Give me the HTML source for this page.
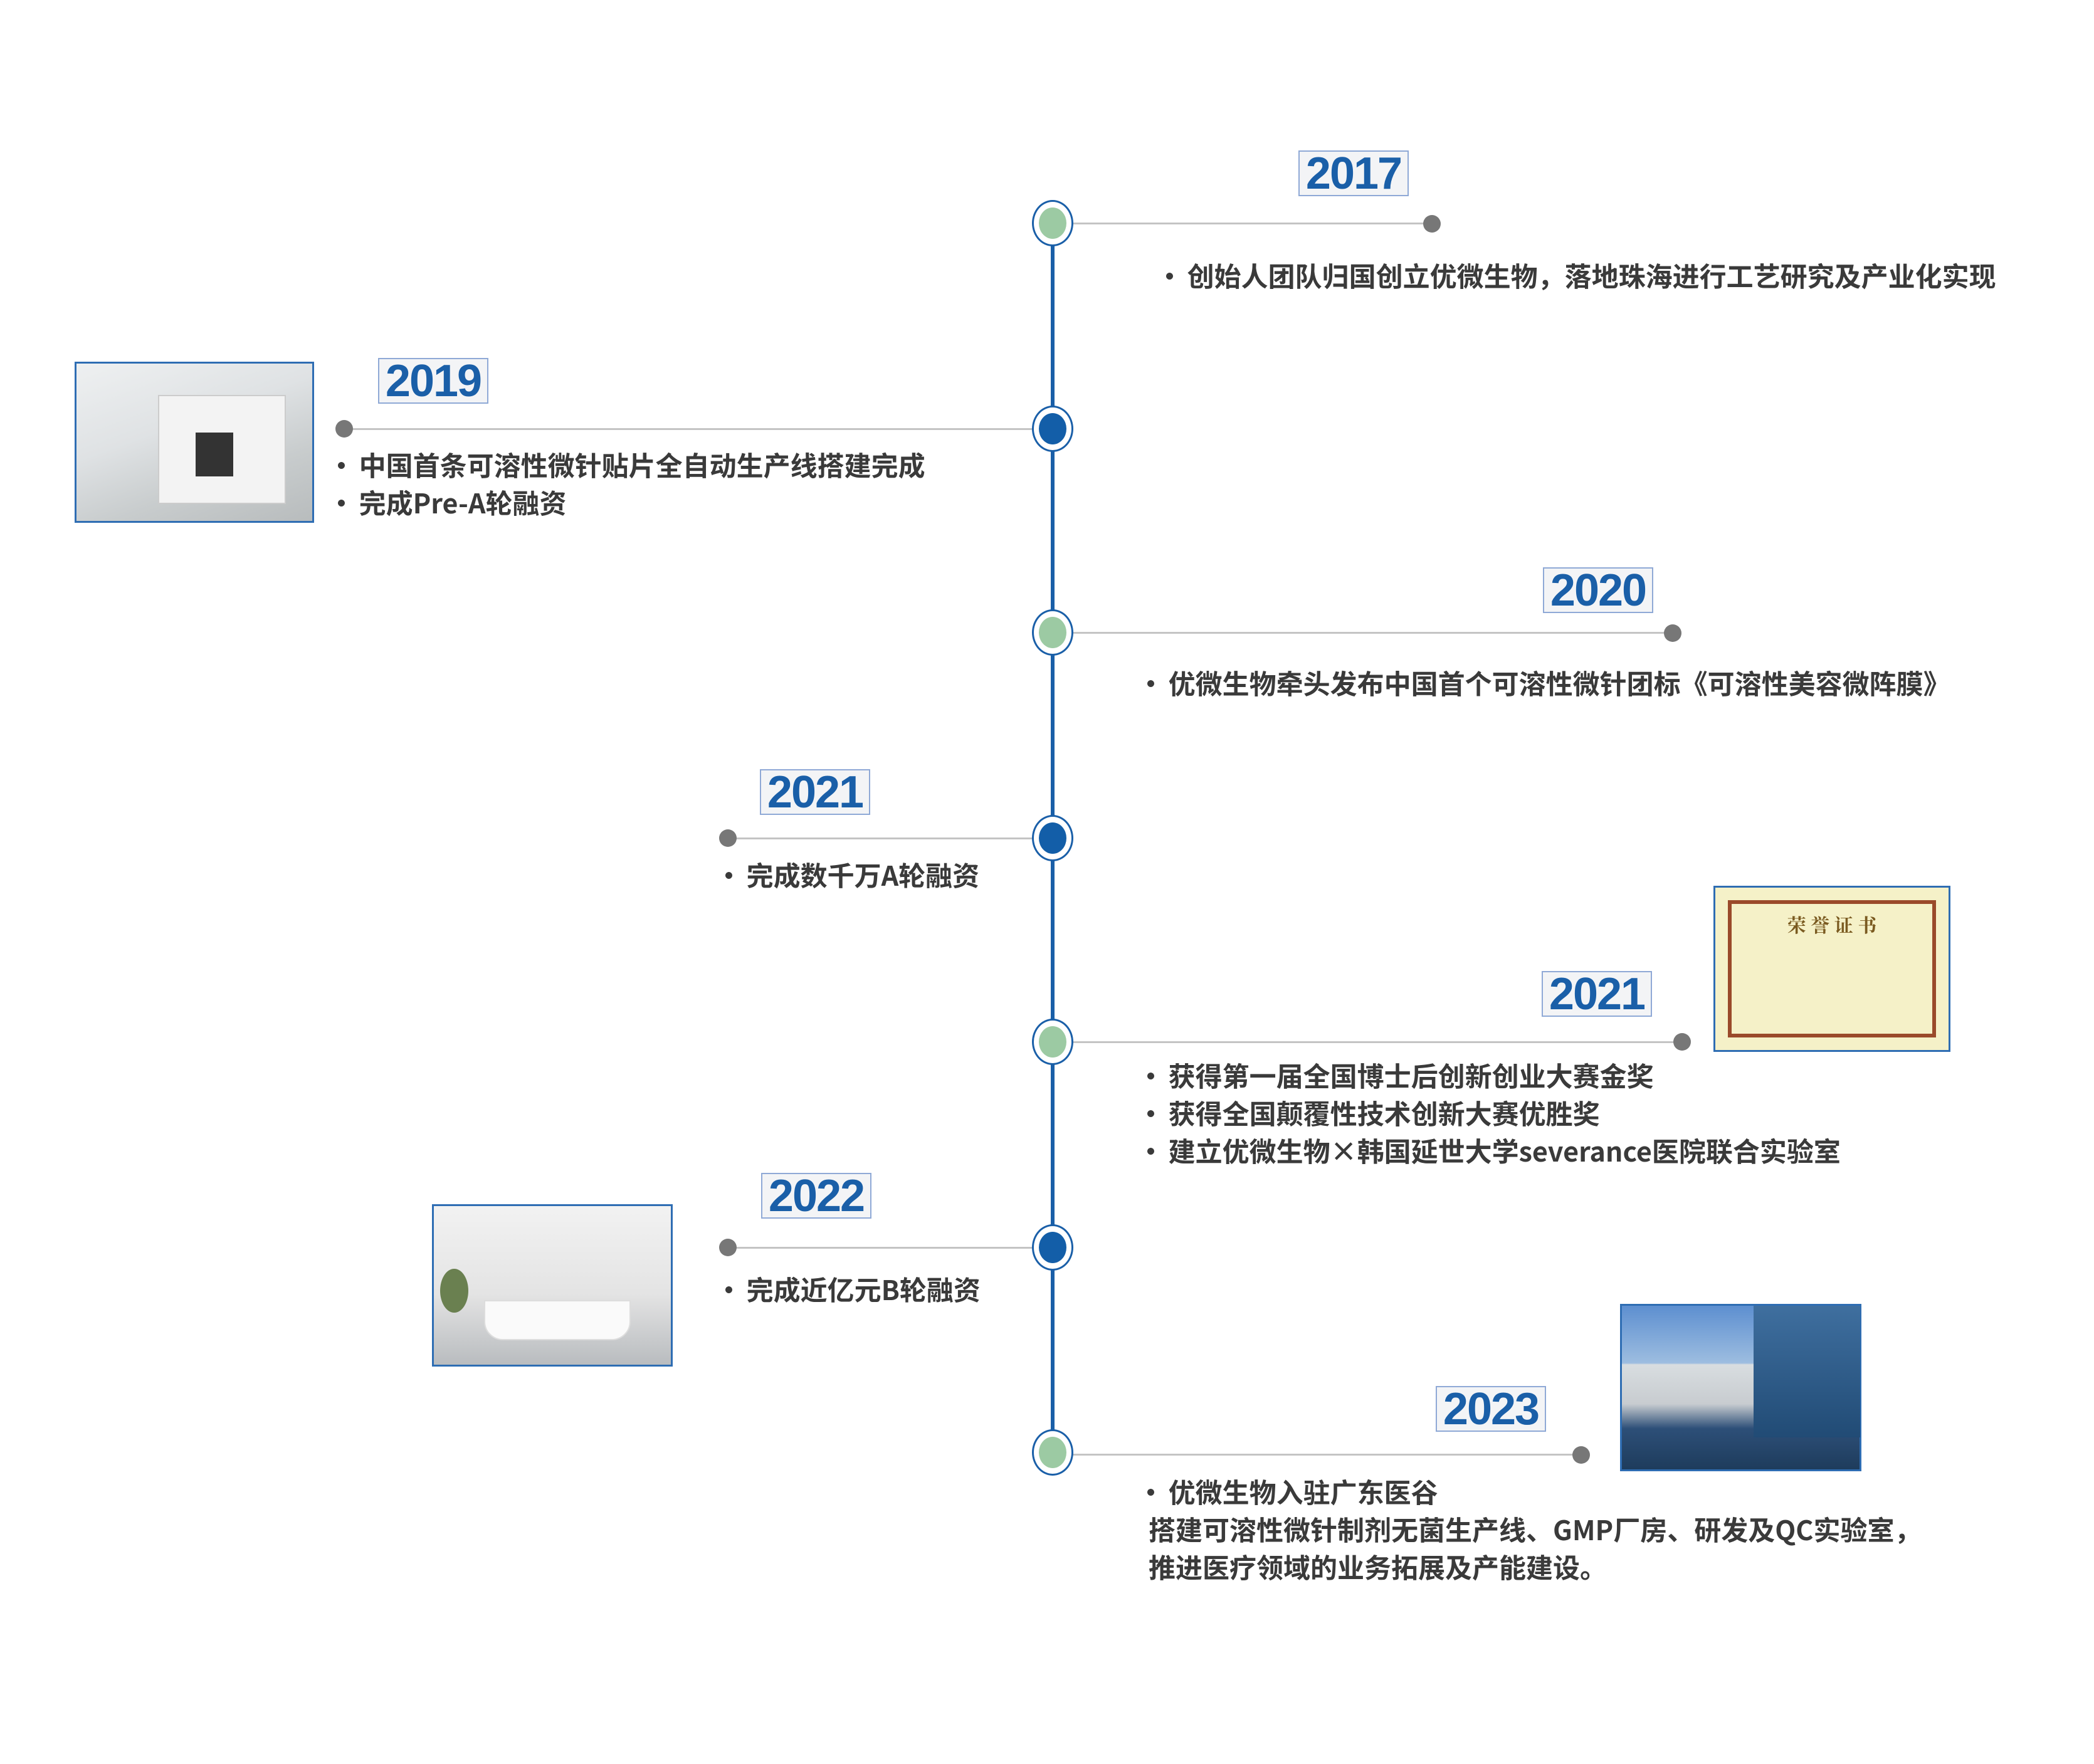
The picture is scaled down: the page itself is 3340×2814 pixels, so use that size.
<!DOCTYPE html>
<html><head><meta charset="utf-8"><style>
body{margin:0;width:3340px;height:2814px;background:#fff;position:relative;overflow:hidden;font-family:"Liberation Sans","Noto Sans CJK SC",sans-serif}
.a{position:absolute}
.spine{left:1676px;top:356px;width:6px;height:1961px;background:#1a5fa8}
.node{position:absolute;width:66px;height:74px;margin:-37px 0 0 -33px;border-radius:50%;background:#fff;border:3px solid #1a5fa8;box-sizing:border-box}
.node i{position:absolute;left:8px;top:9px;width:44px;height:50px;border-radius:50%}
.g i{background:#9ccaa3}.b i{background:#135ea8}
.ln{position:absolute;height:3px;background:#c4c4c4}
.dot{position:absolute;width:28px;height:28px;margin:-14px 0 0 -14px;border-radius:50%;background:#777}
.yr{position:absolute;width:176px;height:73px;background:#f3f4f6;border:2px solid #8fa9d6;box-sizing:border-box;color:#1a5fa8;font-weight:bold;font-size:72px;line-height:70px;text-align:center;font-family:"Liberation Sans",sans-serif;letter-spacing:-2px}
.t{position:absolute;color:#3a3a3a;font-weight:bold;font-size:43px;line-height:60px;white-space:nowrap;font-family:"Noto Sans CJK SC",sans-serif}
.bu{margin-left:-8px;margin-right:-2px}
.img{position:absolute;border:3px solid #2e6db3;box-sizing:border-box}
</style></head><body>
<div class="a spine"></div>

<div class="ln" style="left:1682px;top:355px;width:602px"></div>
<div class="ln" style="left:549px;top:683px;width:1130px"></div>
<div class="ln" style="left:1682px;top:1008px;width:986px"></div>
<div class="ln" style="left:1161px;top:1336px;width:518px"></div>
<div class="ln" style="left:1682px;top:1661px;width:1001px"></div>
<div class="ln" style="left:1161px;top:1989px;width:518px"></div>
<div class="ln" style="left:1682px;top:2319px;width:840px"></div>

<div class="dot" style="left:2284px;top:357px"></div>
<div class="dot" style="left:549px;top:684px"></div>
<div class="dot" style="left:2668px;top:1010px"></div>
<div class="dot" style="left:1161px;top:1337px"></div>
<div class="dot" style="left:2683px;top:1662px"></div>
<div class="dot" style="left:1161px;top:1990px"></div>
<div class="dot" style="left:2522px;top:2321px"></div>

<div class="node g" style="left:1679px;top:356px"><i></i></div>
<div class="node b" style="left:1679px;top:684px"><i></i></div>
<div class="node g" style="left:1679px;top:1009px"><i></i></div>
<div class="node b" style="left:1679px;top:1337px"><i></i></div>
<div class="node g" style="left:1679px;top:1662px"><i></i></div>
<div class="node b" style="left:1679px;top:1990px"><i></i></div>
<div class="node g" style="left:1679px;top:2317px"><i></i></div>

<div class="yr" style="left:2071px;top:240px">2017</div>
<div class="yr" style="left:603px;top:571px">2019</div>
<div class="yr" style="left:2461px;top:905px">2020</div>
<div class="yr" style="left:1212px;top:1227px">2021</div>
<div class="yr" style="left:2459px;top:1549px">2021</div>
<div class="yr" style="left:1214px;top:1871px">2022</div>
<div class="yr" style="left:2290px;top:2211px">2023</div>

<div class="t" style="left:1852px;top:409px"><span class="bu">•</span>&#8201;创始人团队归国创立优微生物，落地珠海进行工艺研究及产业化实现</div>
<div class="t" style="left:531px;top:711px"><span class="bu">•</span>&#8201;中国首条可溶性微针贴片全自动生产线搭建完成<br><span class="bu">•</span>&#8201;完成Pre-A轮融资</div>
<div class="t" style="left:1822px;top:1059px"><span class="bu">•</span>&#8201;优微生物牵头发布中国首个可溶性微针团标《可溶性美容微阵膜》</div>
<div class="t" style="left:1149px;top:1365px"><span class="bu">•</span>&#8201;完成数千万A轮融资</div>
<div class="t" style="left:1822px;top:1685px"><span class="bu">•</span>&#8201;获得第一届全国博士后创新创业大赛金奖<br><span class="bu">•</span>&#8201;获得全国颠覆性技术创新大赛优胜奖<br><span class="bu">•</span>&#8201;建立优微生物×韩国延世大学severance医院联合实验室</div>
<div class="t" style="left:1149px;top:2026px"><span class="bu">•</span>&#8201;完成近亿元B轮融资</div>
<div class="t" style="left:1822px;top:2349px"><span class="bu">•</span>&#8201;优微生物入驻广东医谷</div>
<div class="t" style="left:1832px;top:2409px">搭建可溶性微针制剂无菌生产线、GMP厂房、研发及QC实验室，<br>推进医疗领域的业务拓展及产能建设。</div>

<div class="img" style="left:119px;top:577px;width:382px;height:257px;background:linear-gradient(160deg,#eef0f1 0%,#dfe2e4 40%,#c8cccd 70%,#b8bcbd 100%)">
<div class="a" style="left:130px;top:50px;width:200px;height:170px;background:#f3f3f3;border:2px solid #ccc"></div>
<div class="a" style="left:190px;top:110px;width:60px;height:70px;background:#333"></div></div>
<div class="img" style="left:689px;top:1921px;width:384px;height:259px;background:linear-gradient(180deg,#f2f2f2 0%,#e4e4e4 55%,#b9bcbf 100%)">
<div class="a" style="left:80px;top:150px;width:230px;height:60px;background:#fafafa;border-radius:0 0 30px 30px;border:2px solid #ddd"></div>
<div class="a" style="left:10px;top:100px;width:45px;height:70px;background:#6a8050;border-radius:50%"></div></div>
<div class="img" style="left:2733px;top:1413px;width:378px;height:265px;background:#f5f1c8;padding:20px">
<div style="border:6px solid #9a4a2a;height:100%;box-sizing:border-box;text-align:center;color:#7a5a20;font-family:'Noto Serif CJK SC',serif;font-size:30px;font-weight:bold;padding-top:10px">荣 誉 证 书</div></div>
<div class="img" style="left:2584px;top:2080px;width:385px;height:267px;background:linear-gradient(180deg,#5d8fd0 0%,#9dbde0 35%,#d8dde0 36%,#c8ccd0 60%,#2d4f78 75%,#1e3c5c 100%)">
<div class="a" style="left:210px;top:0;width:170px;height:210px;background:linear-gradient(180deg,#3f6f9f,#214b75)"></div></div>
</body></html>
